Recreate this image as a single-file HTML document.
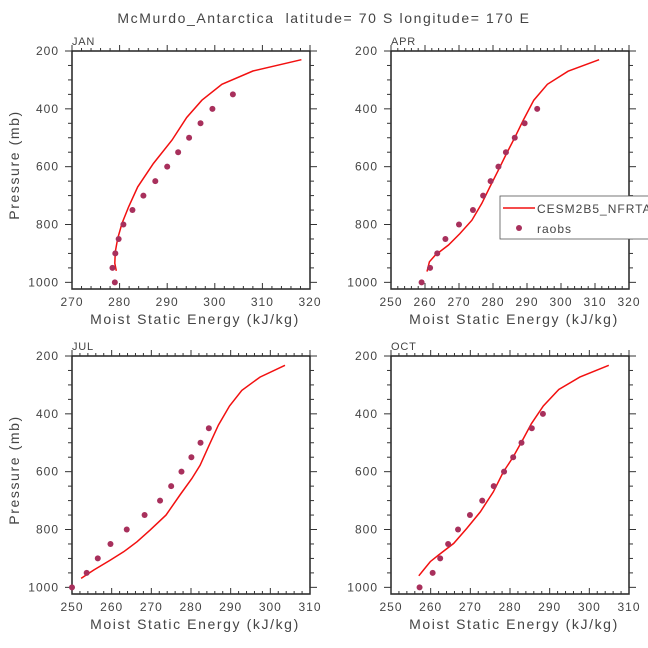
<!DOCTYPE html>
<html><head><meta charset="utf-8"><style>
html,body{margin:0;padding:0;background:#fff;}
svg{display:block;font-family:"Liberation Sans",sans-serif;}
</style></head><body>
<svg id="fig" width="648" height="648" viewBox="0 0 648 648" xmlns="http://www.w3.org/2000/svg">
<text x="324" y="23" text-anchor="middle" font-size="14" letter-spacing="1.6" fill="#444" xml:space="preserve" style="white-space:pre">McMurdo_Antarctica  latitude= 70 S longitude= 170 E</text>
</svg>
<script>
const janModelP=[230,269,315,370,430,508,589,670,739,796,848,894,934,960];
const janModelE=[318.2,308.0,301.5,297.3,294.1,291.0,287.1,283.8,281.9,280.5,279.6,279.1,279.0,279.3];
const janObsP=[350,400,450,500,550,600,650,700,750,800,850,900,950,1000];
const janObsE=[303.8,299.5,297.0,294.6,292.3,290.0,287.5,285.0,282.7,280.8,279.8,279.1,278.5,279.0];
const aprModelP=[230,270,315,370,439,497,554,612,670,727,785,831,871,906,929,963];
const aprModelE=[311.2,302.1,296.0,292.0,288.9,286.5,284.0,281.6,279.1,276.7,273.8,270.3,266.9,263.0,261.3,260.6];
const aprObsP=[400,450,500,550,600,650,700,750,800,850,900,950,1000];
const aprObsE=[293.0,289.3,286.4,283.8,281.6,279.3,277.1,274.1,270.0,266.0,263.6,261.5,259.0];
const julModelP=[232,273,319,373,439,508,578,624,679,750,802,842,877,906,940,969];
const julModelE=[303.7,297.4,292.8,289.7,286.9,284.6,282.3,280.2,277.3,273.7,269.7,266.4,263.0,259.6,255.5,252.3];
const julObsP=[450,500,550,600,650,700,750,800,850,900,950,1000];
const julObsE=[284.5,282.4,280.1,277.6,275.0,272.2,268.3,263.8,259.7,256.5,253.7,250.0];
const octModelP=[232,273,316,373,434,485,549,601,670,739,796,848,888,911,940,960];
const octModelE=[304.9,297.6,292.3,288.4,285.4,283.4,280.8,278.3,275.8,272.5,269.1,265.8,262.0,259.9,258.2,257.0];
const octObsP=[400,450,500,550,600,650,700,750,800,850,900,950,1000];
const octObsE=[288.3,285.5,282.9,280.8,278.5,275.9,273.0,269.9,266.9,264.4,262.4,260.5,257.2];
const janXTicks=[270,280,290,300,310,320];
const aprXTicks=[250,260,270,280,290,300,310,320];
const julXTicks=[250,260,270,280,290,300,310];
const octXTicks=[250,260,270,280,290,300,310];
const yTicks=[200,400,600,800,1000];

const NS="http://www.w3.org/2000/svg";
const svg=document.getElementById('fig');
function mk(tag,attrs,parent){const e=document.createElementNS(NS,tag);for(const k in attrs)e.setAttribute(k,attrs[k]);(parent||svg).appendChild(e);return e;}

function panel(id,label,x0,y0,xmin,xmax,xt,mP,mE,oP,oE,showYLabels){
  const W=238,H=238,pmin=200,pmax=1023;
  const g=mk('g',{});
  
  
  const sx=v=>x0+(v-xmin)/(xmax-xmin)*W;
  const sy=p=>y0+(p-pmin)/(pmax-pmin)*H;
  const fr=mk('rect',{x:x0,y:y0,width:W,height:H,fill:'none',stroke:'#222','stroke-width':1.5},g);
  
  
  for(let v=xmin;v<=xmax+1e-6;v+=2){
    const maj=Math.abs((v-xmin)%10)<1e-6;const L=maj?6:3;const x=sx(v);
    mk('line',{x1:x,x2:x,y1:y0+H-L,y2:y0+H,stroke:'#333','stroke-width':1},g);
    mk('line',{x1:x,x2:x,y1:y0-L,y2:y0,stroke:'#333','stroke-width':1},g);
  }
  xt.forEach(v=>{const t=mk('text',{x:sx(v),y:y0+H+17,'text-anchor':'middle','font-size':12,'letter-spacing':1,fill:'#444'},g);t.textContent=v;
    
    });
  for(let p=200;p<=1000;p+=50){
    const maj=p%200===0;const L=maj?7:4;const y=sy(p);
    mk('line',{x1:x0-L,x2:x0,y1:y,y2:y,stroke:'#333','stroke-width':1},g);
    mk('line',{x1:x0+W,x2:x0+W+L,y1:y,y2:y,stroke:'#333','stroke-width':1},g);
  }
  yTicks.forEach(p=>{const t=mk('text',{x:x0-13,y:sy(p)+4,'text-anchor':'end','font-size':12,'letter-spacing':1,fill:'#444'},g);t.textContent=p;
    
    });
  const xl=mk('text',{x:x0+W/2+4,y:y0+H+35,'text-anchor':'middle','font-size':14,'letter-spacing':1.6,fill:'#444'},g);
  xl.textContent='Moist Static Energy (kJ/kg)';
  
  
  if(showYLabels){
    const yl=mk('text',{x:0,y:0,'text-anchor':'middle','font-size':14,'letter-spacing':1.6,fill:'#444',transform:`translate(19,${y0+H/2-5}) rotate(-90)`},g);
    yl.textContent='Pressure (mb)';
    
    
  }
  const pl=mk('text',{x:x0,y:y0-6,'font-size':11,'letter-spacing':0.8,fill:'#444'},g);
  pl.textContent=label;
  
  
  const pts=mP.map((p,i)=>sx(mE[i]).toFixed(1)+','+sy(p).toFixed(1)).join(' ');
  const ln=mk('polyline',{points:pts,fill:'none',stroke:'#f21010','stroke-width':1.5},g);
  
  
  oP.forEach((p,i)=>{const c=mk('circle',{cx:sx(oE[i]),cy:sy(p),r:3,fill:'#a8305c'},g);
    
    });
}
panel('jan','JAN',72,51,270,320,janXTicks,janModelP,janModelE,janObsP,janObsE,true);
panel('apr','APR',391,51,250,320,aprXTicks,aprModelP,aprModelE,aprObsP,aprObsE,false);
panel('jul','JUL',72,356,250,310,julXTicks,julModelP,julModelE,julObsP,julObsE,true);
panel('oct','OCT',391,356,250,310,octXTicks,octModelP,octModelE,octObsP,octObsE,false);

const lg=mk('g',{});


mk('rect',{x:500,y:196,width:160,height:43,fill:'#fff',stroke:'#555','stroke-width':0.8},lg);
const l1=mk('line',{x1:503,x2:535,y1:208,y2:208,stroke:'#f21010','stroke-width':1.5},lg);


const t1=mk('text',{x:537,y:213,'font-size':12,'letter-spacing':1,fill:'#444'},lg);t1.textContent='CESM2B5_NFRTA';


const c2=mk('circle',{cx:519,cy:228,r:3,fill:'#a8305c'},lg);


const t2=mk('text',{x:537,y:233,'font-size':12,'letter-spacing':1,fill:'#444'},lg);t2.textContent='raobs';


</script>
</body></html>
